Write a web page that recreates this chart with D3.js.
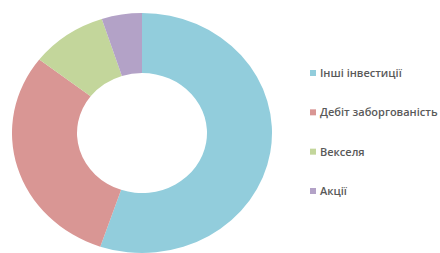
<!DOCTYPE html>
<html>
<head>
<meta charset="utf-8">
<script src="https://cdn.jsdelivr.net/npm/d3@7"></script>
<style>
  body { margin: 0; background: #fff; }
  svg { display: block; }
</style>
</head>
<body>
<script>
// chart data
const categories = ["Інші інвестиції", "Дебіт заборгованість", "Векселя", "Акції"];
const values = [55.2, 30.3, 9.5, 5];
const colors = ["#92cddc", "#d99694", "#c3d69b", "#b3a2c7"];

const w = 440;
const h = 253;

let svg = d3.select("body")
  .append("svg")
  .attr("width", w)
  .attr("height", h);

// the donut is a bit squashed vertically in the picture
let g = svg.append("g")
  .attr("transform", "translate(142,133) scale(1,0.923)");

let pie = d3.pie().sort(null).value(d => d);
let arc = d3.arc().innerRadius(65).outerRadius(130);

g.selectAll("path")
  .data(pie(values))
  .enter()
  .append("path")
  .attr("d", arc)
  .attr("fill", (d, i) => colors[i]);

// legend
let yScale = d3.scalePoint()
  .domain(categories)
  .range([73, 191]);

let legend = svg.selectAll(".leg")
  .data(categories)
  .enter()
  .append("g")
  .attr("class", "leg")
  .attr("transform", d => "translate(310," + yScale(d) + ")");

legend.append("rect")
  .attr("x", 0)
  .attr("y", -3)
  .attr("width", 6)
  .attr("height", 6)
  .attr("fill", (d, i) => colors[i]);

legend.append("text")
  .attr("x", 10)
  .attr("y", 0)
  .attr("dy", "0.35em")
  .attr("font-family", "Open Sans")
  .attr("font-weight", 600)
  .attr("font-size", 11)
  .attr("fill", "#595959")
  .text(d => d);
</script>
</body>
</html>
